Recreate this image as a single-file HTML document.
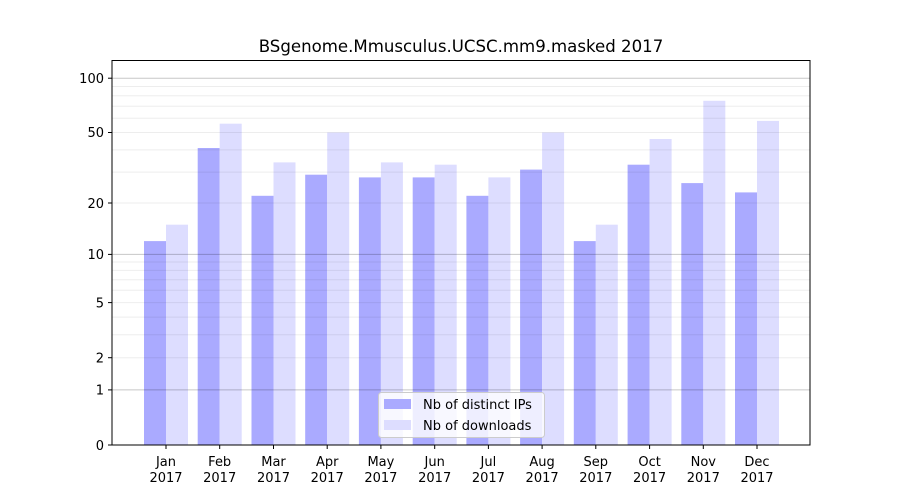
<!DOCTYPE html>
<html><head><meta charset="utf-8"><style>body{margin:0;background:#fff}svg{display:block;font-family:"DejaVu Sans","Liberation Sans",sans-serif}</style></head><body>
<svg width="900" height="500" viewBox="0 0 900 500" xmlns="http://www.w3.org/2000/svg">
<rect width="900" height="500" fill="#fff"/>
<text x="461" y="52" font-size="16.6" text-anchor="middle" fill="#000">BSgenome.Mmusculus.UCSC.mm9.masked 2017</text>
<g fill="#aaaaff">
<rect x="144" y="241.1" width="22" height="203.9"/>
<rect x="197.7" y="148" width="22" height="297"/>
<rect x="251.5" y="195.8" width="22" height="249.2"/>
<rect x="305.2" y="174.7" width="22" height="270.3"/>
<rect x="358.9" y="177.4" width="22" height="267.6"/>
<rect x="412.7" y="177.4" width="22" height="267.6"/>
<rect x="466.4" y="195.8" width="22" height="249.2"/>
<rect x="520.1" y="169.6" width="22" height="275.4"/>
<rect x="573.8" y="241.1" width="22" height="203.9"/>
<rect x="627.6" y="164.7" width="22" height="280.3"/>
<rect x="681.3" y="183.1" width="22" height="261.9"/>
<rect x="735" y="192.4" width="22" height="252.6"/>
</g>
<g fill="#ddddff">
<rect x="166" y="224.7" width="22" height="220.3"/>
<rect x="219.7" y="123.7" width="22" height="321.3"/>
<rect x="273.5" y="162.4" width="22" height="282.6"/>
<rect x="327.2" y="132.5" width="22" height="312.5"/>
<rect x="380.9" y="162.4" width="22" height="282.6"/>
<rect x="434.7" y="164.7" width="22" height="280.3"/>
<rect x="488.4" y="177.4" width="22" height="267.6"/>
<rect x="542.1" y="132.5" width="22" height="312.5"/>
<rect x="595.8" y="224.7" width="22" height="220.3"/>
<rect x="649.6" y="139" width="22" height="306"/>
<rect x="703.3" y="100.8" width="22" height="344.2"/>
<rect x="757" y="120.9" width="22" height="324.1"/>
</g>
<g stroke="#000" stroke-opacity="0.07" stroke-width="1">
<line x1="112" x2="810" y1="357.7" y2="357.7"/><line x1="112" x2="810" y1="334.8" y2="334.8"/><line x1="112" x2="810" y1="317.1" y2="317.1"/><line x1="112" x2="810" y1="302.6" y2="302.6"/><line x1="112" x2="810" y1="290.3" y2="290.3"/><line x1="112" x2="810" y1="279.7" y2="279.7"/><line x1="112" x2="810" y1="270.4" y2="270.4"/><line x1="112" x2="810" y1="262" y2="262"/>
<line x1="112" x2="810" y1="203" y2="203"/><line x1="112" x2="810" y1="172.1" y2="172.1"/><line x1="112" x2="810" y1="149.9" y2="149.9"/><line x1="112" x2="810" y1="132.5" y2="132.5"/><line x1="112" x2="810" y1="118.3" y2="118.3"/><line x1="112" x2="810" y1="106.2" y2="106.2"/><line x1="112" x2="810" y1="95.7" y2="95.7"/><line x1="112" x2="810" y1="86.5" y2="86.5"/>
</g>
<g stroke="#000" stroke-opacity="0.22" stroke-width="1">
<line x1="112" x2="810" y1="389.9" y2="389.9"/><line x1="112" x2="810" y1="254.4" y2="254.4"/><line x1="112" x2="810" y1="78.2" y2="78.2"/>
</g>
<rect x="112" y="60.5" width="698" height="384.5" fill="none" stroke="#000" stroke-width="1"/>
<g stroke="#000" stroke-width="1">
<line x1="108" x2="112" y1="445" y2="445"/><line x1="108" x2="112" y1="389.9" y2="389.9"/><line x1="108" x2="112" y1="357.7" y2="357.7"/><line x1="108" x2="112" y1="302.6" y2="302.6"/><line x1="108" x2="112" y1="254.4" y2="254.4"/><line x1="108" x2="112" y1="203" y2="203"/><line x1="108" x2="112" y1="132.5" y2="132.5"/><line x1="108" x2="112" y1="78.2" y2="78.2"/>
<line x1="166" x2="166" y1="445" y2="449"/><line x1="219.7" x2="219.7" y1="445" y2="449"/><line x1="273.5" x2="273.5" y1="445" y2="449"/><line x1="327.2" x2="327.2" y1="445" y2="449"/><line x1="380.9" x2="380.9" y1="445" y2="449"/><line x1="434.7" x2="434.7" y1="445" y2="449"/><line x1="488.4" x2="488.4" y1="445" y2="449"/><line x1="542.1" x2="542.1" y1="445" y2="449"/><line x1="595.8" x2="595.8" y1="445" y2="449"/><line x1="649.6" x2="649.6" y1="445" y2="449"/><line x1="703.3" x2="703.3" y1="445" y2="449"/><line x1="757" x2="757" y1="445" y2="449"/>
</g>
<g font-size="13" text-anchor="end" fill="#000">
<text x="104" y="450">0</text><text x="104" y="394.5">1</text><text x="104" y="362.5">2</text><text x="104" y="307.5">5</text><text x="104" y="259">10</text><text x="104" y="208">20</text><text x="104" y="137">50</text><text x="104" y="83">100</text>
</g>
<g font-size="13" text-anchor="middle" fill="#000">
<text x="166" y="466">Jan</text><text x="166" y="482">2017</text>
<text x="219.7" y="466">Feb</text><text x="219.7" y="482">2017</text>
<text x="273.5" y="466">Mar</text><text x="273.5" y="482">2017</text>
<text x="327.2" y="466">Apr</text><text x="327.2" y="482">2017</text>
<text x="380.9" y="466">May</text><text x="380.9" y="482">2017</text>
<text x="434.7" y="466">Jun</text><text x="434.7" y="482">2017</text>
<text x="488.4" y="466">Jul</text><text x="488.4" y="482">2017</text>
<text x="542.1" y="466">Aug</text><text x="542.1" y="482">2017</text>
<text x="595.8" y="466">Sep</text><text x="595.8" y="482">2017</text>
<text x="649.6" y="466">Oct</text><text x="649.6" y="482">2017</text>
<text x="703.3" y="466">Nov</text><text x="703.3" y="482">2017</text>
<text x="757" y="466">Dec</text><text x="757" y="482">2017</text>
</g>
<rect x="378.5" y="392.5" width="166" height="45" rx="3" fill="#fff" fill-opacity="0.8" stroke="#ccc"/>
<rect x="384" y="399" width="27" height="10" fill="#aaaaff"/>
<rect x="384" y="420" width="27" height="10" fill="#ddddff"/>
<g font-size="13" fill="#000">
<text x="423" y="409">Nb of distinct IPs</text>
<text x="423" y="430">Nb of downloads</text>
</g>
</svg>
</body></html>
